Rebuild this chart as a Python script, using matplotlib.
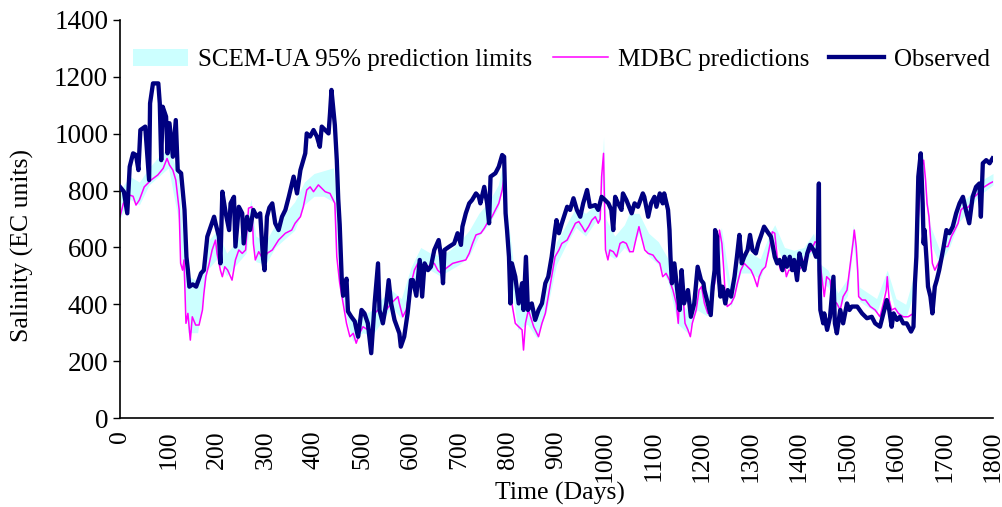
import matplotlib
matplotlib.use("Agg")
import matplotlib.pyplot as plt
import numpy as np

plt.rcParams['font.family'] = ['Liberation Serif', 'DejaVu Serif']

# ---------------- data ----------------
obs_days = [0, 8, 15, 20, 27, 33, 38, 42, 52, 60, 62, 68, 79, 82, 85, 88, 95, 98, 102, 109,
            115, 119, 126, 133, 137, 140, 143, 150, 157, 167, 173, 180, 187, 194, 197, 204, 207, 211, 218, 225,
            228, 235, 238, 245, 252, 255, 262, 268, 275, 282, 289, 295, 298, 303, 308, 314, 320, 327, 334, 341,
            348, 358, 365, 372, 378, 382, 385, 392, 399, 406, 412, 416, 423, 430, 433, 436, 440, 443, 447, 450,
            453, 457, 460, 467, 470, 477, 484, 489, 491, 498, 504, 511, 518, 525, 532, 535, 542, 549, 554, 559,
            566, 576, 579, 586, 593, 600, 604, 611, 618, 623, 628, 635, 641, 648, 657, 662, 666, 669, 679, 689,
            696, 703, 706, 713, 720, 726, 734, 740, 743, 751, 757, 761, 764, 774, 781, 788, 792, 795, 798, 802,
            805, 808, 815, 822, 829, 832, 837, 841, 849, 856, 863, 870, 877, 883, 890, 897, 900, 905, 911, 922,
            928, 935, 942, 949, 955, 963, 969, 980, 986, 993, 1000, 1007, 1013, 1017, 1021, 1027, 1034, 1037, 1044, 1055,
            1061, 1068, 1078, 1081, 1089, 1095, 1102, 1106, 1113, 1119, 1122, 1130, 1133, 1135, 1138, 1143, 1149, 1154, 1158, 1163,
            1171, 1177, 1184, 1191, 1198, 1203, 1205, 1212, 1218, 1222, 1226, 1227, 1231, 1234, 1238, 1242, 1248, 1253, 1260, 1267,
            1272, 1277, 1282, 1287, 1294, 1299, 1304, 1311, 1316, 1321, 1328, 1335, 1342, 1345, 1350, 1355, 1360, 1366, 1370, 1375,
            1381, 1386, 1390, 1396, 1401, 1406, 1411, 1417, 1423, 1430, 1435, 1439, 1441, 1442, 1444, 1450, 1452, 1458, 1464, 1471,
            1474, 1478, 1485, 1491, 1499, 1504, 1509, 1520, 1530, 1540, 1550, 1557, 1567, 1574, 1581, 1586, 1591, 1595, 1602, 1608,
            1615, 1622, 1631, 1636, 1639, 1642, 1646, 1651, 1655, 1657, 1659, 1663, 1666, 1671, 1675, 1680, 1684, 1689, 1697, 1704,
            1710, 1717, 1724, 1731, 1738, 1744, 1751, 1758, 1765, 1772, 1775, 1779, 1786, 1793, 1799]
obs_vals = [813, 796, 720, 884, 931, 925, 872, 1013, 1025, 837, 1107, 1177, 1177, 1107, 907, 1095, 1060, 931, 1037, 919,
            1048, 872, 861, 732, 567, 520, 462, 470, 462, 509, 520, 638, 673, 708, 685, 638, 544, 796, 720, 661,
            755, 778, 603, 743, 720, 614, 708, 661, 732, 708, 720, 560, 520, 708, 740, 755, 685, 661, 708, 732,
            778, 849, 790, 872, 907, 931, 1001, 990, 1013, 990, 954, 1025, 1013, 1001, 1072, 1154, 1083, 1030, 907, 770,
            680, 497, 430, 490, 375, 356, 340, 300, 286, 380, 368, 333, 228, 403, 544, 380, 333, 403, 485, 403,
            345, 298, 251, 286, 368, 485, 485, 430, 556, 427, 544, 520, 532, 591, 626, 567, 474, 591, 603, 614,
            650, 609, 673, 720, 755, 767, 790, 778, 755, 813, 755, 685, 849, 861, 884, 925, 919, 720, 661, 567,
            403, 544, 497, 403, 474, 380, 567, 380, 403, 345, 380, 403, 474, 497, 567, 661, 696, 650, 685, 743,
            732, 773, 732, 708, 755, 802, 743, 749, 732, 778, 767, 755, 732, 661, 778, 755, 732, 790, 767, 720,
            755, 743, 790, 778, 708, 755, 778, 743, 790, 755, 790, 732, 661, 567, 474, 544, 450, 380, 520, 403,
            450, 356, 403, 532, 485, 474, 450, 403, 362, 462, 520, 661, 638, 509, 427, 462, 403, 450, 427, 497,
            567, 644, 544, 567, 591, 644, 591, 579, 614, 638, 673, 655, 638, 614, 567, 544, 556, 520, 567, 532,
            567, 520, 556, 485, 579, 544, 520, 579, 609, 591, 567, 600, 825, 520, 380, 333, 368, 310, 356, 497,
            333, 298, 380, 333, 403, 380, 392, 392, 368, 351, 356, 333, 321, 368, 415, 380, 321, 368, 345, 356,
            333, 333, 304, 321, 474, 567, 849, 931, 755, 614, 661, 556, 462, 427, 368, 462, 485, 520, 591, 661,
            650, 673, 720, 755, 778, 732, 685, 778, 813, 825, 708, 896, 907, 896, 913]

mdbc_days = [0, 7, 20, 27, 33, 40, 50, 64, 78, 89, 97, 102, 109, 115, 119, 122, 125, 129, 132, 136,
             140, 145, 149, 156, 163, 170, 173, 177, 184, 190, 197, 200, 207, 211, 216, 222, 231, 238, 245, 252,
             259, 265, 272, 275, 279, 286, 292, 299, 303, 314, 327, 341, 354, 361, 372, 378, 385, 392, 399, 409,
             416, 423, 433, 443, 447, 453, 460, 467, 474, 481, 487, 494, 501, 511, 518, 525, 532, 542, 549, 559,
             566, 573, 576, 583, 590, 597, 607, 614, 621, 628, 635, 641, 648, 655, 662, 672, 686, 699, 713, 720,
             727, 734, 744, 751, 757, 767, 774, 781, 788, 792, 795, 798, 802, 808, 815, 822, 829, 832, 836, 842,
             853, 863, 870, 877, 883, 890, 897, 905, 911, 922, 932, 939, 946, 953, 959, 966, 973, 980, 986, 990,
             993, 997, 998, 1001, 1006, 1010, 1017, 1024, 1031, 1037, 1044, 1051, 1058, 1065, 1070, 1075, 1082, 1089, 1099, 1106,
             1113, 1119, 1126, 1133, 1140, 1147, 1151, 1156, 1160, 1165, 1171, 1176, 1180, 1188, 1194, 1199, 1205, 1212, 1219, 1226,
             1233, 1236, 1241, 1245, 1248, 1252, 1260, 1267, 1273, 1280, 1287, 1294, 1301, 1307, 1314, 1318, 1324, 1331, 1338, 1345,
             1350, 1355, 1362, 1368, 1374, 1379, 1386, 1392, 1399, 1406, 1413, 1419, 1426, 1433, 1438, 1442, 1447, 1452, 1457, 1464,
             1469, 1478, 1485, 1491, 1499, 1506, 1512, 1514, 1518, 1521, 1523, 1530, 1537, 1547, 1557, 1567, 1574, 1580, 1582, 1586,
             1591, 1598, 1605, 1615, 1625, 1636, 1639, 1642, 1648, 1653, 1657, 1661, 1664, 1668, 1671, 1675, 1680, 1687, 1694, 1700,
             1707, 1714, 1721, 1728, 1734, 1741, 1748, 1755, 1762, 1769, 1775, 1782, 1793, 1800]
mdbc_vals = [708, 755, 784, 780, 749, 767, 813, 837, 855, 878, 913, 890, 872, 837, 778, 732, 544, 520, 556, 333,
             368, 274, 356, 327, 327, 380, 438, 497, 544, 591, 626, 579, 520, 497, 532, 520, 485, 556, 591, 579,
             591, 738, 743, 614, 556, 585, 567, 560, 579, 591, 626, 650, 661, 685, 708, 743, 802, 813, 796, 820,
             808, 796, 790, 755, 567, 474, 403, 333, 286, 298, 263, 298, 321, 310, 298, 368, 380, 345, 380, 403,
             415, 427, 403, 356, 380, 450, 520, 544, 544, 520, 532, 540, 544, 520, 509, 526, 544, 550, 556, 579,
             614, 644, 650, 667, 685, 708, 732, 755, 802, 849, 778, 661, 567, 403, 333, 321, 310, 239, 333, 380,
             321, 286, 333, 368, 427, 497, 567, 591, 614, 626, 661, 685, 691, 673, 655, 673, 696, 708, 685, 700,
             849, 931, 837, 591, 556, 591, 585, 567, 614, 620, 614, 585, 585, 638, 673, 638, 591, 579, 573, 556,
             544, 497, 509, 485, 450, 403, 333, 497, 450, 333, 310, 286, 333, 380, 450, 462, 403, 368, 403, 474,
             567, 661, 614, 520, 427, 392, 403, 427, 474, 520, 544, 532, 520, 497, 462, 497, 520, 532, 591, 655,
             650, 567, 520, 567, 497, 520, 520, 544, 520, 532, 567, 579, 591, 620, 614, 567, 497, 427, 497, 485,
             415, 403, 380, 427, 450, 544, 626, 661, 603, 520, 427, 415, 415, 392, 380, 356, 403, 450, 497, 415,
             380, 386, 368, 356, 356, 368, 474, 603, 755, 884, 907, 837, 755, 708, 638, 544, 520, 544, 567, 603,
             603, 638, 661, 685, 732, 743, 740, 755, 778, 790, 802, 813, 825, 831]

band_days = [0, 20, 40, 60, 80, 100, 120, 130, 140, 160, 180, 200, 220, 240, 260, 270, 280, 300, 320, 340,
             360, 380, 400, 420, 440, 450, 460, 480, 500, 520, 540, 560, 580, 600, 620, 640, 660, 680, 700, 720,
             740, 760, 780, 790, 800, 820, 840, 860, 880, 900, 920, 940, 960, 980, 990, 997, 1002, 1020, 1040, 1050,
             1070, 1090, 1110, 1130, 1150, 1170, 1190, 1210, 1230, 1240, 1260, 1280, 1300, 1320, 1340, 1350, 1370, 1390, 1410, 1430,
             1445, 1460, 1480, 1500, 1512, 1525, 1560, 1582, 1600, 1620, 1640, 1655, 1670, 1690, 1710, 1730, 1750, 1770, 1800]
band_lo = [700, 770, 750, 820, 850, 880, 700, 500, 300, 300, 520, 560, 500, 540, 580, 700, 550, 540, 600, 630,
           660, 750, 780, 780, 760, 550, 400, 270, 300, 290, 340, 390, 350, 460, 530, 520, 500, 520, 540, 570,
           640, 680, 740, 820, 560, 310, 330, 280, 380, 540, 610, 670, 640, 690, 690, 900, 580, 560, 600, 580,
           650, 570, 540, 480, 330, 300, 380, 360, 500, 600, 390, 510, 510, 490, 590, 620, 540, 520, 540, 590,
           480, 460, 380, 430, 610, 410, 370, 480, 370, 350, 460, 880, 620, 540, 600, 690, 730, 780, 820]
band_hi = [800, 850, 830, 880, 920, 950, 860, 640, 500, 480, 620, 660, 580, 620, 680, 770, 640, 620, 680, 720,
           760, 830, 860, 870, 880, 700, 470, 340, 360, 380, 420, 450, 420, 530, 600, 580, 570, 590, 620, 660,
           720, 760, 820, 900, 700, 420, 420, 360, 460, 620, 680, 740, 720, 750, 760, 990, 700, 640, 680, 720,
           720, 650, 620, 560, 420, 380, 460, 420, 600, 670, 450, 570, 580, 560, 650, 680, 600, 590, 600, 650,
           540, 520, 440, 490, 680, 460, 420, 520, 420, 400, 520, 930, 680, 590, 660, 750, 780, 830, 860]

y_ticks = [0, 200, 400, 600, 800, 1000, 1200, 1400]
x_ticks = list(range(0, 1801, 100))

# ---------------- figure ----------------
fig = plt.figure(figsize=(10.02, 5.07), dpi=100)
ax = fig.add_axes([120 / 1002, 1 - 418 / 507, 873 / 1002, 398 / 507])

ax.fill_between(band_days, band_lo, band_hi, color='#CCFFFF', linewidth=0,
                label='SCEM-UA 95% prediction limits', zorder=1)
ax.plot(mdbc_days, mdbc_vals, color='#FF00FF', lw=1.1, label='MDBC predictions', zorder=2)
ax.plot(obs_days, obs_vals, color='#000080', lw=3.1, label='Observed', zorder=3)

ax.set_xlim(0, 1800)
ax.set_ylim(0, 1400)
ax.set_yticks(y_ticks)
ax.set_xticks(x_ticks)
ax.set_xticklabels([str(v) for v in x_ticks], rotation=90)
ax.tick_params(axis='y', labelsize=19.5, length=5, direction='out', width=1)
ax.tick_params(axis='x', labelsize=18.5, length=0, pad=9)
for s in ['top', 'right']:
    ax.spines[s].set_visible(False)
for s in ['left', 'bottom']:
    ax.spines[s].set_linewidth(1.2)

fig.text(560 / 1002, 1 - 493 / 507, 'Time (Days)', ha='center', va='center', fontsize=18.5)
fig.text(22 / 1002, 1 - 245 / 507, 'Salinity (EC units)', ha='center', va='center',
         rotation=90, fontsize=18.5)

leg = ax.legend(loc='center', bbox_to_anchor=(0.506, 0.9), ncol=3, frameon=False,
                fontsize=18, handlelength=2.2, handletextpad=0.4, columnspacing=0.8)

fig.savefig('out.png', dpi=100)
